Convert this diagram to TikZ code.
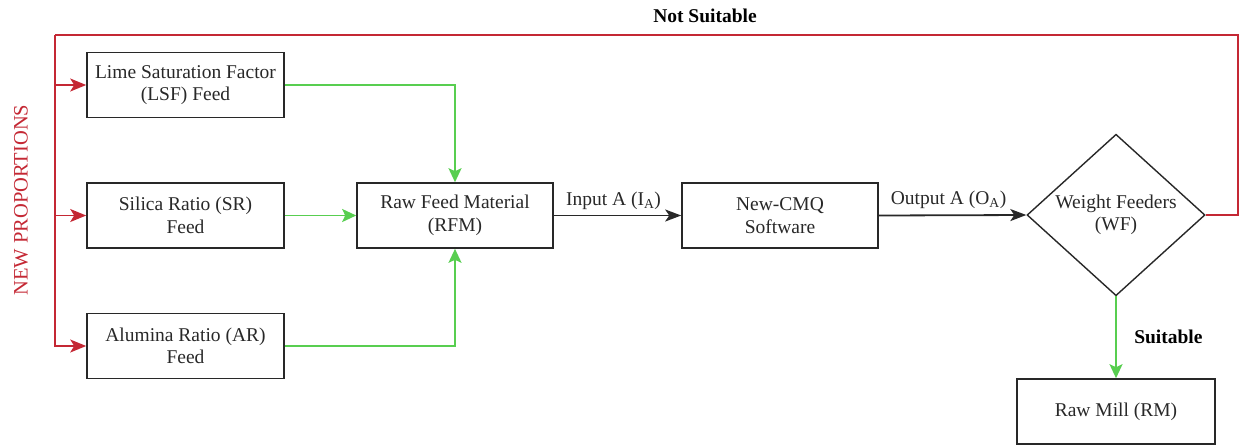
\documentclass[tikz,border=0pt]{standalone}
\usepackage{fontspec}
\setmainfont{Liberation Serif}
\usetikzlibrary{shapes.geometric,arrows.meta}
\definecolor{loopred}{RGB}{196,40,52}
\definecolor{feedgreen}{RGB}{88,206,80}
\definecolor{ink}{RGB}{40,40,40}
\newcommand{\boxfont}{\rmfamily\fontsize{19.5}{22.5}\selectfont}
\begin{document}
\begin{tikzpicture}[x=1pt,y=-1pt,
  every node/.style={font=\boxfont, text=ink},
  procbox/.style={draw=ink, line width=1.6pt, minimum width=197pt, minimum height=65pt,
    inner sep=2pt, align=center, font=\boxfont},
  decision/.style={draw=ink, line width=1.4pt, diamond, minimum width=178pt,
    minimum height=130pt, inner sep=0pt, align=center, font=\boxfont},
  tipred/.style={-{Stealth[length=16pt,width=13pt,inset=4pt]}},
  redline/.style={draw=loopred, line width=1.6pt},
  greenline/.style={draw=feedgreen, line width=1.8pt, -{Stealth[length=14pt,width=13pt,inset=3pt]}},
  blackline/.style={draw=ink, line width=1.8pt, -{Stealth[length=16pt,width=12pt,inset=4pt]}},
  tag/.style={font=\rmfamily\fontsize{19.5}{22.5}\selectfont\bfseries, text=black}
]
\useasboundingbox (0,0) rectangle (1241,445);

% process boxes
\node[procbox] (lsf) at (185.5,85)  {Lime Saturation Factor\\(LSF) Feed};
\node[procbox] (sr)  at (185.5,215.5) {Silica Ratio (SR)\\Feed};
\node[procbox] (ar)  at (185.5,346) {Alumina Ratio (AR)\\Feed};
\node[procbox, minimum width=196pt] (rfm) at (455,215.5) {Raw Feed Material\\(RFM)};
\node[procbox, minimum width=196pt] (cmq) at (780,215.5) {New-CMQ\\Software};
\node[decision] (wf) at (1116,215) {Weight Feeders\\(WF)};
\node[procbox, minimum width=198pt] (rm) at (1116,411.5) {Raw Mill (RM)};

% feedback loop corners
\coordinate (tr) at (1238,35);
\coordinate (tl) at (55,35);

% rejected proportions return to the feeds
\draw[redline] (wf.east) -| (tr) -- (tl);
\draw[redline, tipred] (tl) |- (ar.west);
\draw[redline, tipred] (lsf.west -| tl) -- (lsf.west);
\draw[redline, tipred] (sr.west -| tl) -- (sr.west);

% feeds into the raw material
\draw[greenline] (lsf.east) -| (rfm.north);
\draw[greenline] (sr.east) -- (rfm.west);
\draw[greenline] (ar.east) -| (rfm.south);

% main flow
\draw[blackline] (rfm.east) -- node[above=2pt, xshift=-4pt] {Input A (I\textsubscript{A})} (cmq.west);
\draw[blackline] (cmq.east) -- node[above=2pt, xshift=-4pt] {Output A (O\textsubscript{A})} (wf.west);
\draw[greenline] (wf.south) -- node[right=14pt, tag] {Suitable} (rm.north);

% labels
\node[tag] (ns) at (705,16) {Not Suitable};
\node[rotate=90, text=loopred, font=\rmfamily\fontsize{20.5}{24}\selectfont] (np) at (21,200) {NEW PROPORTIONS};
\end{tikzpicture}
\end{document}
